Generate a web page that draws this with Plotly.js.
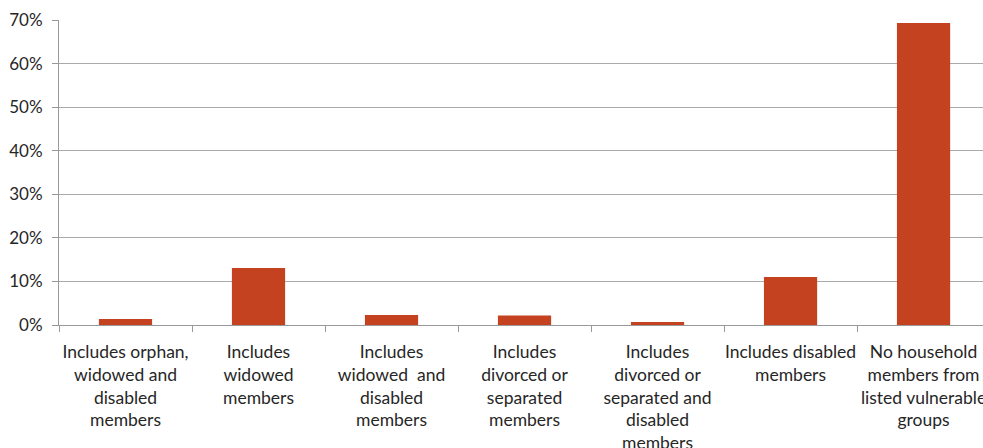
<!DOCTYPE html>
<html>
<head>
<meta charset="utf-8">
<script src="https://cdn.plot.ly/plotly-3.0.1.min.js"></script>
<style>html,body{margin:0;padding:0;overflow:hidden;background:#fff}#chart{width:983px;height:448px}</style>
</head>
<body>
<div id="chart"></div>
<script>
const categories = [
  "Includes orphan,<br>widowed and<br>disabled<br>members",
  "Includes<br>widowed<br>members",
  "Includes<br>widowed  and<br>disabled<br>members",
  "Includes<br>divorced or<br>separated<br>members",
  "Includes<br>divorced or<br>separated and<br>disabled<br>members",
  "Includes disabled<br>members",
  "No household<br>members from<br>listed vulnerable<br>groups"
];
const shares = [0.014, 0.131, 0.023, 0.022, 0.007, 0.110, 0.693];
const yTickVals = [0, 0.1, 0.2, 0.3, 0.4, 0.5, 0.6, 0.7];
const yTickText = ["0%", "10%", "20%", "30%", "40%", "50%", "60%", "70%"];

const trace = {
  type: "bar",
  x: categories,
  y: shares,
  marker: {color: "#C4421F"},
  width: 0.4,
  hoverinfo: "skip"
};
const layout = {
  width: 983, height: 448,
  margin: {l: 59, r: 0, t: 20, b: 123, pad: 0},
  paper_bgcolor: "#fff", plot_bgcolor: "#fff",
  showlegend: false,
  font: {family: "Lato, 'Open Sans', 'Liberation Sans', sans-serif", size: 18, color: "#262626"},
  xaxis: {
    type: "category",
    range: [-0.5, 6.447],
    tickson: "boundaries",
    ticks: "outside", ticklen: 6, tickcolor: "#999", tickwidth: 1,
    ticklabelstandoff: 11,
    showline: true, linecolor: "#999", linewidth: 1,
    showgrid: false, zeroline: false,
    tickangle: 0,
    tickfont: {size: 17.5, color: "#262626"}
  },
  yaxis: {
    range: [0, 0.7],
    tickvals: yTickVals, ticktext: yTickText,
    ticks: "outside", ticklen: 6, tickcolor: "#999",
    ticklabelstandoff: 6,
    showline: true, linecolor: "#999", linewidth: 1,
    showgrid: true, gridcolor: "#aaa", gridwidth: 1,
    zeroline: false,
    tickfont: {size: 17, color: "#262626"}
  }
};
Plotly.newPlot("chart", [trace], layout, {staticPlot: true, displayModeBar: false});
</script>
</body>
</html>
